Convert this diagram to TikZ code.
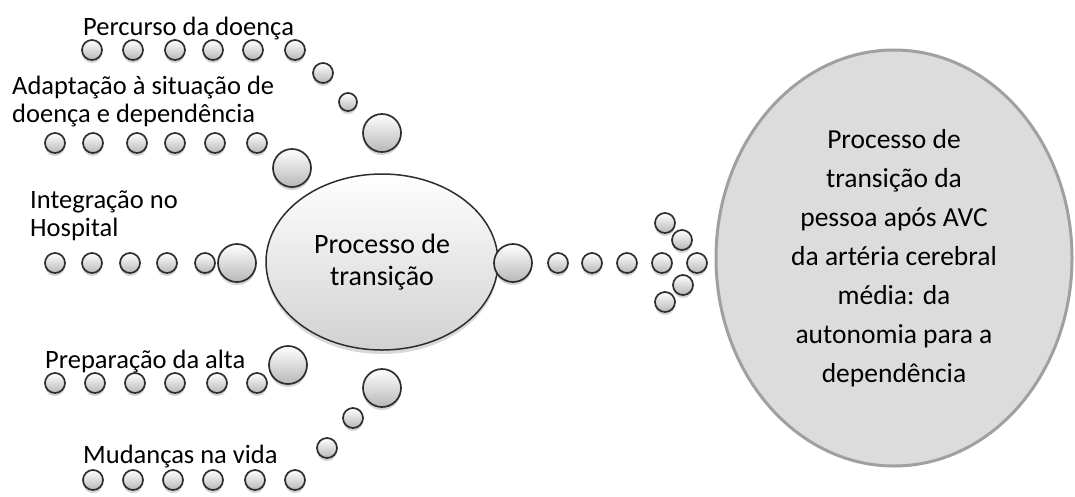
\documentclass[tikz,border=0pt]{standalone}
\usepackage{fontspec}
\setmainfont{Carlito}
\usetikzlibrary{shapes.geometric,shadows}
\definecolor{contorno}{RGB}{45, 45, 45}
\definecolor{fundo}{RGB}{220, 220, 220}
\definecolor{borda}{RGB}{160, 160, 160}

\begin{document}
\begin{tikzpicture}[x=1pt, y=-1pt,
    conta/.style={circle, draw=contorno, line width=1.7pt, inner sep=0pt,
      minimum size=20pt, % bolinhas pequenas
      top color=white, bottom color=black!28,
      drop shadow={shadow xshift=0pt, shadow yshift=-3pt, opacity=0.35}},
    contagrande/.style={conta, minimum size=38pt}, % bolas maiores
    centro/.style={ellipse, draw=contorno, line width=1.5pt, inner sep=0pt,
      minimum width=232pt, minimum height=176pt,
      top color=white, bottom color=black!18, align=center,
      font=\fontsize{28}{32}\selectfont,
      drop shadow={shadow xshift=0pt, shadow yshift=-4pt, opacity=0.3}},
    destino/.style={ellipse, draw=borda, line width=3pt, fill=fundo,
      inner sep=0pt, minimum width=356pt, minimum height=416pt,
      align=center, font=\fontsize{27.5}{39}\selectfont},
    rotulo/.style={inner sep=0pt, align=left,
      font=\fontsize{26.5}{28}\selectfont},
  ]
  \useasboundingbox (0,0) rectangle (1075,496);

  \node[centro] (proc) at (382,262) {Processo de\\transição};
  \node[destino] (pessoa) at (894,258) {Processo de\\transição da\\pessoa
    após AVC\\da artéria cerebral\\média: da\\autonomia para a\\dependência};

  % Percurso da doenca
  \node[rotulo, anchor=base west] (percurso) at (83,35) {Percurso da doença};
  \foreach \x [count=\i] in {92,133,175,213,253,295}
    \node[conta] (percurso-\i) at (\x,50) {};
  \node[conta] (percurso-7) at (323,73) {};
  \node[conta, minimum size=18pt] (percurso-8) at (348,102) {};
  \node[contagrande] (percurso-9) at (382,133) {};

  % Adaptacao
  \node[rotulo, anchor=west] (adaptacao) at (12,102)
    {Adaptação à situação de\\doença e dependência};
  \foreach \x [count=\i] in {55,93,137,175,215,257}
    \node[conta] (adaptacao-\i) at (\x,143) {};
  \node[contagrande] (adaptacao-7) at (292,168) {};

  % Integracao
  \node[rotulo, anchor=west] (integracao) at (30,216)
    {Integração no\\Hospital};
  \foreach \x [count=\i] in {55,92,130,167,205}
    \node[conta] (integracao-\i) at (\x,263) {};
  \node[contagrande] (integracao-6) at (237,263) {};

  % Preparacao da alta
  \node[rotulo, anchor=base west] (alta) at (45,368) {Preparação da alta};
  \foreach \x [count=\i] in {55,95,135,175,217,257}
    \node[conta] (alta-\i) at (\x,383) {};
  \node[contagrande] (alta-7) at (288,365) {};

  % Mudancas na vida
  \node[rotulo, anchor=base west] (mudancas) at (83,463) {Mudanças na vida};
  \foreach \x [count=\i] in {93,133,173,213,255,295}
    \node[conta] (mudancas-\i) at (\x,480) {};
  \node[conta] (mudancas-7) at (327,448) {};
  \node[conta] (mudancas-8) at (353,418) {};
  \node[contagrande] (mudancas-9) at (382,388) {};

  % seta de bolinhas
  \node[contagrande] (seta-0) at (513,263) {};
  \foreach \x [count=\i] in {558,592,627,662,697}
    \node[conta] (seta-\i) at (\x,263) {};
  \node[conta] (seta-6) at (665,223) {};
  \node[conta] (seta-7) at (682,240) {};
  \node[conta] (seta-8) at (683,285) {};
  \node[conta] (seta-9) at (665,302) {};
\end{tikzpicture}
\end{document}
